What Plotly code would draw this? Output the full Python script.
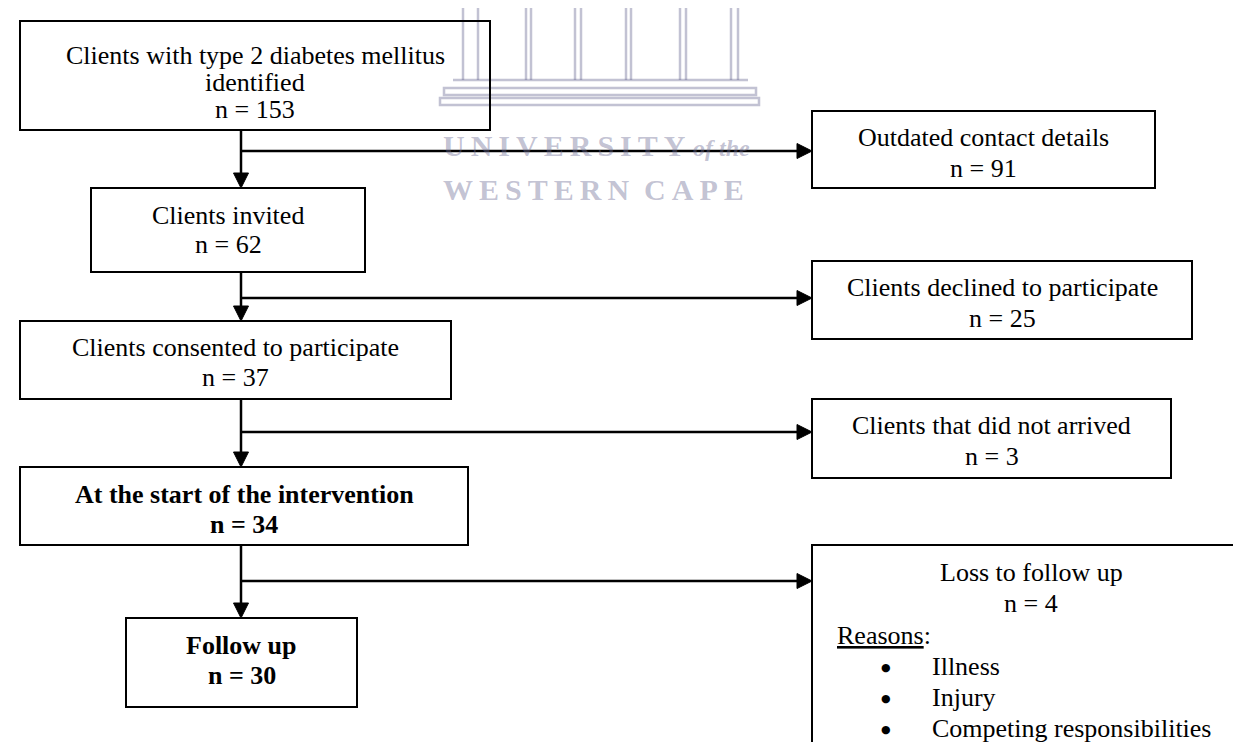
import plotly.graph_objects as go

W, H = 1241, 742
FONT = "Liberation Serif, Times New Roman, serif"
INK = "#000000"
WM = "rgba(110,110,150,0.42)"

# ---- flow content ----
main_labels = [
    ["Clients with type 2 diabetes mellitus", "identified"],
    ["Clients invited"],
    ["Clients consented to participate"],
    ["At the start of the intervention"],
    ["Follow up"],
]
main_counts = [153, 62, 37, 34, 30]
main_bold = [False, False, False, True, True]

exit_labels = [
    "Outdated contact details",
    "Clients declined to participate",
    "Clients that did not arrived",
    "Loss to follow up",
]
exit_counts = [91, 25, 3, 4]
loss_reasons = ["Illness", "Injury", "Competing responsibilities"]

# ---- geometry (pixels, y down) ----
main_boxes = [(12, 13, 482, 122), (83, 180, 357, 264), (12, 313, 443, 391),
              (12, 459, 460, 537), (118, 610, 349, 699)]
main_first_line = [47, 207, 339, 486, 637]
main_gap = [27, 29, 30, 30, 30]
exit_boxes = [(804, 103, 1147, 180), (804, 253, 1184, 331),
              (804, 391, 1163, 470), (804, 537, 1260, 760)]
exit_first_line = [129, 279, 417, 564]
branch_y = [143, 290, 424, 573]
spine_x = 233
head = 15

fig = go.Figure()
shapes, annotations = [], []


def text(x, y, s, bold=False, anchor="center", size=26, color=INK, italic=False, family=FONT):
    if bold:
        s = f"<b>{s}</b>"
    if italic:
        s = f"<i>{s}</i>"
    annotations.append(dict(x=x, y=y, text=s, showarrow=False, xanchor=anchor,
                            yanchor="middle", font=dict(family=family, size=size, color=color)))


def box(x0, y0, x1, y1):
    shapes.append(dict(type="rect", x0=x0, y0=y0, x1=x1, y1=y1,
                       line=dict(color=INK, width=2), fillcolor="rgba(0,0,0,0)"))


def seg(x0, y0, x1, y1, w=2.5, color=INK, layer="above"):
    shapes.append(dict(type="line", x0=x0, y0=y0, x1=x1, y1=y1, layer=layer,
                       line=dict(color=color, width=w)))


def tri(path):
    shapes.append(dict(type="path", path=path, fillcolor=INK, line=dict(color=INK, width=1)))


# ---- watermark (faint university crest) ----
for vx in [455, 470, 518, 523, 567, 573, 618, 623, 672, 678, 723, 730]:
    seg(vx, 0, vx, 72, w=2.5, color=WM, layer="below")
seg(445, 72, 740, 72, w=2.5, color=WM, layer="below")
for y0, y1, xa, xb in [(80, 87, 436, 748), (90, 97, 432, 751)]:
    shapes.append(dict(type="rect", x0=xa, y0=y0, x1=xb, y1=y1, layer="below",
                       line=dict(color=WM, width=2.5), fillcolor="rgba(0,0,0,0)"))
sp = "\u2009"
text(433, 137, sp.join("UNIVERSITY"), bold=True, anchor="left", size=30, color=WM)
text(683, 140, "of the", anchor="left", size=24, color=WM, italic=True, bold=True)
text(433, 181, sp.join("WESTERN") + "  " + sp.join("CAPE"),
     bold=True, anchor="left", size=30, color=WM)

# ---- main column ----
for i, (x0, y0, x1, y1) in enumerate(main_boxes):
    box(x0, y0, x1, y1)
    cx = (x0 + x1) / 2
    lines = main_labels[i] + [f"n = {main_counts[i]}"]
    for k, s in enumerate(lines):
        text(cx, main_first_line[i] + k * main_gap[i], s, bold=main_bold[i])

for i in range(len(main_boxes) - 1):
    top = main_boxes[i][3]
    tip = main_boxes[i + 1][1]
    seg(spine_x, top, spine_x, tip - head)
    tri(f"M {spine_x - 7.5} {tip - head} L {spine_x + 7.5} {tip - head} L {spine_x} {tip} Z")

# ---- exclusions ----
for i, (x0, y0, x1, y1) in enumerate(exit_boxes):
    box(x0, y0, x1, y1)
    by = branch_y[i]
    seg(spine_x, by, x0 - head, by)
    tri(f"M {x0 - head} {by - 7.5} L {x0 - head} {by + 7.5} L {x0} {by} Z")
    cx = (x0 + min(x1, 1242)) / 2
    for k, s in enumerate([exit_labels[i], f"n = {exit_counts[i]}"]):
        text(cx, exit_first_line[i] + k * 31, s)

# reasons list inside the loss box
ry = 627
text(827, ry, "<u>Reasons</u>:", anchor="left")
for k, r in enumerate(loss_reasons):
    yy = ry + (k + 1) * 31
    text(878, yy + 1, "\u25CF", size=11, family="DejaVu Sans")
    text(922, yy, r, anchor="left")

fig.update_layout(
    width=W, height=H,
    margin=dict(l=0, r=0, t=0, b=0),
    paper_bgcolor="white", plot_bgcolor="white",
    shapes=shapes, annotations=annotations,
    showlegend=False,
    xaxis=dict(range=[0, W], visible=False, fixedrange=True),
    yaxis=dict(range=[H, 0], visible=False, fixedrange=True),
)

fig.write_html("out.html")
